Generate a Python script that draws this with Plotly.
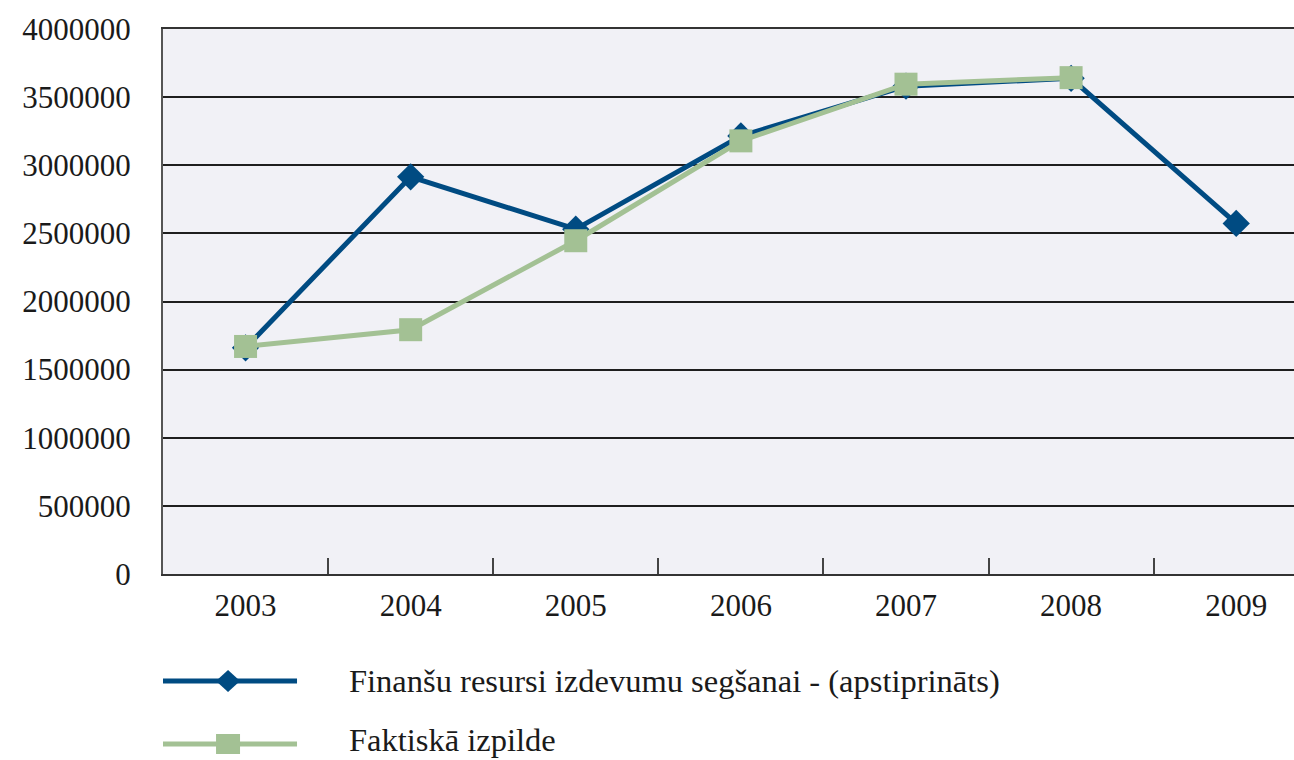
import plotly.graph_objects as go

years = ["2003", "2004", "2005", "2006", "2007", "2008", "2009"]
approved = [1660000, 2915000, 2531000, 3215000, 3580000, 3638000, 2573000]
actual = [1670000, 1793000, 2446000, 3179000, 3595000, 3643000]
y_ticks = [0, 500000, 1000000, 1500000, 2000000, 2500000, 3000000, 3500000, 4000000]
series_names = ["Finanšu resursi izdevumu segšanai - (apstiprināts)", "Faktiskā izpilde"]

BLUE = "#004B82"
GREEN = "#A3C194"
FONT = "Liberation Serif"

fig = go.Figure()
fig.add_trace(go.Scatter(
    x=years, y=approved, mode="lines+markers", name=series_names[0],
    line=dict(color=BLUE, width=5),
    marker=dict(symbol="diamond", size=21, color=BLUE),
    showlegend=False,
))
fig.add_trace(go.Scatter(
    x=years[:len(actual)], y=actual, mode="lines+markers", name=series_names[1],
    line=dict(color=GREEN, width=5),
    marker=dict(symbol="square", size=23, color=GREEN),
    showlegend=False,
))

# custom legend (below plot)
leg_rows = [(-0.1963, -0.1963, BLUE, "diamond"), (-0.3119, -0.3045, GREEN, "square")]
for (yy, ty, col, sym), name in zip(leg_rows, series_names):
    fig.add_shape(type="line", xref="paper", yref="paper", x0=0, x1=0.1185, y0=yy, y1=yy,
                  line=dict(color=col, width=5))
    if sym == "diamond":
        path = "M0,11 L12,0 L0,-11 L-12,0 Z"
    else:
        path = "M-12,-10 L12,-10 L12,10 L-12,10 Z"
    fig.add_shape(type="path", xref="paper", yref="paper", xsizemode="pixel", ysizemode="pixel",
                  xanchor=0.0575, yanchor=yy, path=path, fillcolor=col, line=dict(width=0))
    fig.add_annotation(xref="paper", yref="paper", x=0.1637, y=ty, text=name, showarrow=False,
                       xanchor="left", yanchor="middle", borderpad=0,
                       font=dict(family=FONT, size=32.5, color="#1a1a1a"))

fig.update_layout(
    width=1294, height=760,
    margin=dict(l=163, r=0, t=29, b=186),
    paper_bgcolor="white",
    plot_bgcolor="#F1F1F6",
    font=dict(family=FONT, size=31, color="#1a1a1a"),
    xaxis=dict(
        type="category", range=[-0.5, 6.35],
        tickson="boundaries", ticks="inside", ticklen=16, tickwidth=1.5, tickcolor="#444",
        showgrid=False, showline=True, linecolor="#333", linewidth=2, mirror=True,
        ticklabelstandoff=3, fixedrange=True,
    ),
    yaxis=dict(
        range=[0, 4000000], tickvals=y_ticks, ticktext=[str(v) for v in y_ticks],
        showgrid=True, gridcolor="#1e1e1e", gridwidth=1.5,
        showline=True, linecolor="#555", linewidth=2,
        ticks="", ticklabelstandoff=24, zeroline=False, fixedrange=True,
    ),
)

fig.write_html("out.html", config={"displayModeBar": False},
               post_script="document.body.style.margin='0';document.body.style.overflow='hidden';")
